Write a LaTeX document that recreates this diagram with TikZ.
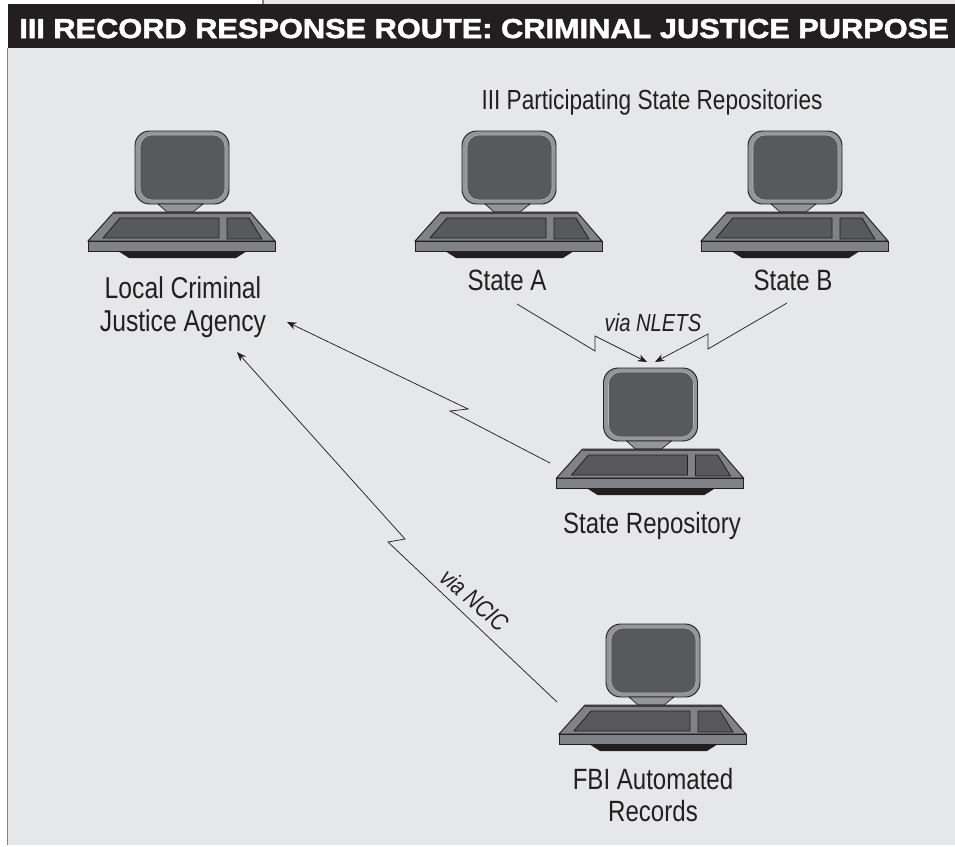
\documentclass[tikz,border=0pt]{standalone}
\usepackage{fontspec}
\setmainfont[FakeStretch=0.82]{Liberation Sans}
\newfontfamily\bannerfont[FakeStretch=1.125,FakeBold=2]{Liberation Sans}
\usepackage{tikz}
\usetikzlibrary{arrows.meta}

\definecolor{panelbg}{HTML}{E6E7E9}
\definecolor{inkdark}{HTML}{231F20}
\definecolor{screengray}{HTML}{58595B}
\definecolor{framegray}{HTML}{939598}
\definecolor{deskgray}{HTML}{808285}

\tikzset{
  label/.style={font=\fontsize{22}{23.5}\selectfont, text=inkdark, align=center, inner sep=0pt},
  vialabel/.style={font=\fontsize{18.5}{20}\selectfont\itshape, text=inkdark, inner sep=0pt},
  link/.style={draw=inkdark, line width=0.55pt, -{Stealth[length=7pt,width=5.5pt]}},
  computer/.pic={
    \draw[draw=inkdark, line width=0.7pt, fill=framegray, rounded corners=11pt] (-47,0) rectangle (47,73);
    \draw[draw=framegray!70, line width=0.4pt, fill=screengray, rounded corners=9pt] (-42,4) rectangle (43,69);
    \draw[draw=inkdark, line width=0.5pt, fill=framegray] (-24,73) -- (21,73) -- (11,81) -- (-15,81) -- cycle;
    \fill[inkdark] (-64,120) -- (65,120) -- (54,127) -- (-53,127) -- cycle;
    \draw[draw=inkdark, line width=0.7pt, fill=deskgray] (-68,81) -- (68,81) -- (93,110) -- (-94,110) -- cycle;
    \draw[draw=inkdark, line width=0.7pt, fill=deskgray] (-94,110) rectangle (93,120);
    \fill[inkdark!70!deskgray] (-68,81) rectangle (68,82.5);
    \draw[draw=inkdark, line width=0.6pt, fill=screengray] (-62,87) -- (37,87) -- (37,107) -- (-79,107) -- cycle;
    \draw[draw=inkdark, line width=0.6pt, fill=screengray] (45,87) -- (67,87) -- (80,108) -- (45,108) -- cycle;
  }
}

\begin{document}
\begin{tikzpicture}[x=0.75pt,y=-0.75pt]
\useasboundingbox (0,0) rectangle (955,846);
% background and banner
\fill[white] (0,0) rectangle (955,846);
\fill[panelbg] (264,0) rectangle (955,4);
\fill[panelbg] (8,48) rectangle (955,845);
\draw[draw=deskgray, line width=1pt] (263,0) -- (263,4);
\draw[draw=deskgray, line width=1.2pt] (7.5,48) -- (7.5,845);
\fill[inkdark] (8,4) rectangle (955,48);
\node[font=\fontsize{20.5}{22}\selectfont\bannerfont\bfseries, text=white, inner sep=0pt, anchor=base] (banner) at (484,38) {III RECORD RESPONSE ROUTE: CRIMINAL JUSTICE PURPOSE};

% computers
\pic at (182,131) {computer};
\pic at (509,131) {computer};
\pic at (795,131) {computer};
\pic at (650.5,368) {computer};
\pic at (653,624) {computer};

% labels
\node[label, font=\fontsize{22.6}{24.7}\selectfont] (local) at (183,307) {Local Criminal\\Justice Agency};
\node[label, font=\fontsize{20.7}{22}\selectfont, anchor=base] (repos) at (652,109) {III Participating State Repositories};
\node[label, anchor=base] (statea) at (507,290) {State A};
\node[label, anchor=base] (stateb) at (793,290) {State B};
\node[label, anchor=base] (staterepo) at (652,533) {State Repository};
\node[label] (fbi) at (653,795) {FBI Automated\\Records};
\node[vialabel, anchor=base] (nlets) at (653,331) {via NLETS};
\node[vialabel, rotate=-41] (ncic) at (475,600) {via NCIC};

% links
\coordinate (aout) at (517,304);
\coordinate (akink1) at (595,351);
\coordinate (akink2) at (595,336);
\coordinate (atip) at (647,362);
\coordinate (bout) at (787,303);
\coordinate (bkink1) at (708,349);
\coordinate (bkink2) at (708,334);
\coordinate (btip) at (655,362);
\coordinate (repoout) at (550,463);
\coordinate (repokink1) at (450,411);
\coordinate (repokink2) at (468,409);
\coordinate (repotip) at (287,322);
\coordinate (fbiout) at (557,702);
\coordinate (fbikink1) at (388,542);
\coordinate (fbikink2) at (405,539);
\coordinate (fbitip) at (237,352);
\draw[link] (aout) -- (akink1) -- (akink2) -- (atip);
\draw[link] (bout) -- (bkink1) -- (bkink2) -- (btip);
\draw[link] (repoout) -- (repokink1) -- (repokink2) -- (repotip);
\draw[link] (fbiout) -- (fbikink1) -- (fbikink2) -- (fbitip);
\end{tikzpicture}
\end{document}
